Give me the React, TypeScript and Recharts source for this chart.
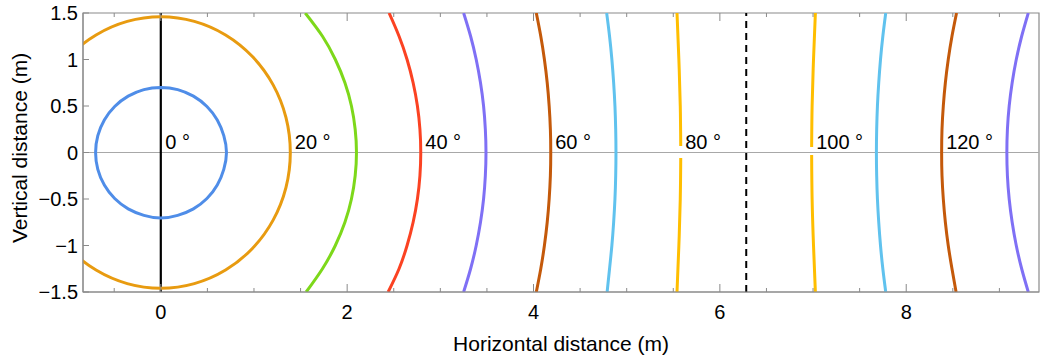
import React from "react";
import {
  LineChart,
  Line,
  XAxis,
  YAxis,
  ReferenceLine,
  ReferenceArea,
  ReferenceDot,
  Label,
} from "recharts";

// axis ranges and ticks
const X_MIN = -0.835;
const X_MAX = 9.425;
const X_TICKS = [-0.5, 0, 0.5, 1, 1.5, 2, 2.5, 3, 3.5, 4, 4.5, 5, 5.5, 6, 6.5, 7, 7.5, 8, 8.5, 9];
const X_MAJOR = [0, 2, 4, 6, 8];
const Y_TICKS = [-1.5, -1, -0.5, 0, 0.5, 1, 1.5];

// y levels used for the near-vertical contours
const Y_LEVELS = [1.5, 1.25, 1, 0.75, 0.5, 0.25, 0, -0.25, -0.5, -0.75, -1, -1.25, -1.5];

// 10° contour: circle round the source, traced past its start so the seam is hidden
const C10 = [
  [-0.35, 0.606], [-0.181, 0.676], [0, 0.7], [0.181, 0.676], [0.35, 0.606], [0.495, 0.495],
  [0.606, 0.35], [0.676, 0.181], [0.705, 0], [0.676, -0.181], [0.606, -0.35], [0.495, -0.495],
  [0.35, -0.606], [0.181, -0.676], [0, -0.705], [-0.181, -0.676], [-0.35, -0.606], [-0.495, -0.495],
  [-0.606, -0.35], [-0.676, -0.181], [-0.7, 0], [-0.676, 0.181], [-0.606, 0.35], [-0.495, 0.495],
  [-0.35, 0.606], [-0.181, 0.676], [0, 0.7], [0.181, 0.676], [0.35, 0.606],
];
// 20° contour: runs out of the frame on the left
const C20 = [
  [-1.204, 0.73], [-0.983, 1.032], [-0.695, 1.264], [-0.36, 1.41], [0, 1.46], [0.36, 1.41],
  [0.695, 1.264], [0.983, 1.032], [1.204, 0.73], [1.343, 0.378], [1.39, 0], [1.343, -0.378],
  [1.204, -0.73], [0.983, -1.032], [0.695, -1.264], [0.36, -1.41], [0, -1.46], [-0.36, -1.41],
  [-0.695, -1.264], [-0.983, -1.032], [-1.204, -0.73],
];

// x positions of the other contours at each Y_LEVELS value
const C30_X = [1.55, 1.735, 1.873, 1.976, 2.046, 2.086, 2.1, 2.086, 2.046, 1.976, 1.873, 1.735, 1.56];
const C40_X = [2.45, 2.557, 2.643, 2.708, 2.754, 2.781, 2.79, 2.781, 2.754, 2.708, 2.643, 2.557, 2.44];
const C50_X = [3.25, 3.325, 3.385, 3.431, 3.464, 3.483, 3.49, 3.483, 3.464, 3.431, 3.385, 3.325, 3.25];
const C60_X = [4.03, 4.078, 4.117, 4.147, 4.168, 4.181, 4.185, 4.181, 4.168, 4.147, 4.117, 4.078, 4.03];
const C70_X = [4.785, 4.816, 4.841, 4.86, 4.874, 4.882, 4.885, 4.882, 4.874, 4.86, 4.841, 4.816, 4.79];
const C110_X = [7.78, 7.749, 7.724, 7.705, 7.691, 7.683, 7.68, 7.683, 7.691, 7.705, 7.724, 7.749, 7.78];
const C120_X = [8.54, 8.491, 8.451, 8.42, 8.398, 8.384, 8.38, 8.384, 8.398, 8.42, 8.451, 8.491, 8.535];
const C130_X = [9.31, 9.239, 9.181, 9.137, 9.105, 9.086, 9.08, 9.086, 9.105, 9.137, 9.181, 9.239, 9.31];

// the two yellow contours are broken where they meet the label
const C80_TOP = [[5.54, 1.5], [5.56, 1.0], [5.575, 0.5], [5.58, 0.07]];
const C80_BOTTOM = [[5.58, -0.06], [5.575, -0.5], [5.56, -1.0], [5.54, -1.5]];
const C100_TOP = [[7.025, 1.5], [7.005, 1.0], [6.99, 0.5], [6.985, 0.06]];
const C100_BOTTOM = [[6.985, -0.027], [6.99, -0.5], [7.005, -1.0], [7.025, -1.5]];

// contour labels and where their curve crosses y = 0
const LABEL_TEXT = ["0 °", "20 °", "40 °", "60 °", "80 °", "100 °", "120 °"];
const LABEL_X = [0, 1.39, 2.79, 4.185, 5.58, 6.985, 8.38];

const TWO_PI = 6.283;

const FRAME = "#8a8a8a";
const FONT = "'Liberation Sans', Arial, sans-serif";
const PLOT_TOP = 13;

const pairs = (p: number[][]) => p.map(([x, y]) => ({ x, y }));
const col = (xs: number[]) => xs.map((x, i) => ({ x, y: Y_LEVELS[i] }));

const curves = [
  { key: "c10", data: pairs(C10), color: "#4f8de8" },
  { key: "c20", data: pairs(C20), color: "#e89b10" },
  { key: "c30", data: col(C30_X), color: "#7dd81a" },
  { key: "c40", data: col(C40_X), color: "#fb4222" },
  { key: "c50", data: col(C50_X), color: "#7f70f5" },
  { key: "c60", data: col(C60_X), color: "#c4590a" },
  { key: "c70", data: col(C70_X), color: "#60c2ee" },
  { key: "c80a", data: pairs(C80_TOP), color: "#ffbe00" },
  { key: "c80b", data: pairs(C80_BOTTOM), color: "#ffbe00" },
  { key: "c100a", data: pairs(C100_TOP), color: "#ffbe00" },
  { key: "c100b", data: pairs(C100_BOTTOM), color: "#ffbe00" },
  { key: "c110", data: col(C110_X), color: "#60c2ee" },
  { key: "c120", data: col(C120_X), color: "#c4590a" },
  { key: "c130", data: col(C130_X), color: "#7f70f5" },
];

const fmt = (v: number) => (v < 0 ? "\u2212" + Math.abs(v) : String(v));

const XTick = (props: any) => {
  const { x, y, payload } = props;
  const major = X_MAJOR.includes(payload.value);
  const len = major ? 8 : 4;
  return (
    <g>
      <line x1={x} x2={x} y1={y} y2={y - len} stroke={FRAME} />
      <line x1={x} x2={x} y1={PLOT_TOP} y2={PLOT_TOP + len} stroke={FRAME} />
      {major && (
        <text x={x} y={y + 27} textAnchor="middle" fontSize={20} fontFamily={FONT} fill="#000">
          {fmt(payload.value)}
        </text>
      )}
    </g>
  );
};

const YTick = (props: any) => {
  const { x, y, payload } = props;
  return (
    <g>
      <line x1={x} x2={x + 6} y1={y} y2={y} stroke={FRAME} />
      <text x={x - 5} y={y + 7} textAnchor="end" fontSize={20} fontFamily={FONT} fill="#000">
        {fmt(payload.value)}
      </text>
    </g>
  );
};

export default function App() {
  return (
    <div style={{ position: "absolute", left: 0, top: 0, background: "#fff" }}>
      <LineChart width={1041} height={356} margin={{ top: PLOT_TOP, right: 2, bottom: 0, left: 0 }}>
        <XAxis
          type="number"
          dataKey="x"
          domain={[X_MIN, X_MAX]}
          allowDataOverflow
          ticks={X_TICKS}
          interval={0}
          tick={<XTick />}
          tickLine={false}
          tickSize={0}
          tickMargin={0}
          height={64}
          axisLine={{ stroke: FRAME }}
        >
          <Label
            content={() => (
              <text x={561} y={351} textAnchor="middle" fontSize={21} fontFamily={FONT} fill="#000">
                Horizontal distance (m)
              </text>
            )}
          />
        </XAxis>
        <YAxis
          type="number"
          domain={[-1.5, 1.5]}
          allowDataOverflow
          ticks={Y_TICKS}
          interval={0}
          tick={<YTick />}
          tickLine={false}
          tickSize={0}
          tickMargin={0}
          width={83}
          axisLine={{ stroke: FRAME }}
        >
          <Label
            content={() => (
              <text
                x={27}
                y={148}
                transform="rotate(-90 27 148)"
                textAnchor="middle"
                fontSize={21}
                fontFamily={FONT}
                fill="#000"
              >
                Vertical distance (m)
              </text>
            )}
          />
        </YAxis>
        <ReferenceArea x1={X_MIN} x2={X_MAX} y1={-1.5} y2={1.5} fill="none" stroke={FRAME} strokeWidth={1.2} />
        <ReferenceLine y={0} stroke="#a8a8a8" strokeWidth={1.2} />
        <ReferenceLine x={0} stroke="#000" strokeWidth={2.2} />
        <ReferenceLine x={TWO_PI} stroke="#000" strokeWidth={2} strokeDasharray="7 5" />
        {curves.map((c) => (
          <Line
            key={c.key}
            data={c.data}
            dataKey="y"
            type="natural"
            stroke={c.color}
            strokeWidth={3}
            dot={false}
            activeDot={false}
            isAnimationActive={false}
          />
        ))}
        {LABEL_X.map((lx, i) => (
          <ReferenceDot
            key={"lab" + i}
            x={lx}
            y={0}
            r={0}
            shape={(p: any) => (
              <text x={p.cx + 4.5} y={p.cy - 4} fontSize={20} fontFamily={FONT} fill="#000">
                {LABEL_TEXT[i]}
              </text>
            )}
          />
        ))}
      </LineChart>
    </div>
  );
}
